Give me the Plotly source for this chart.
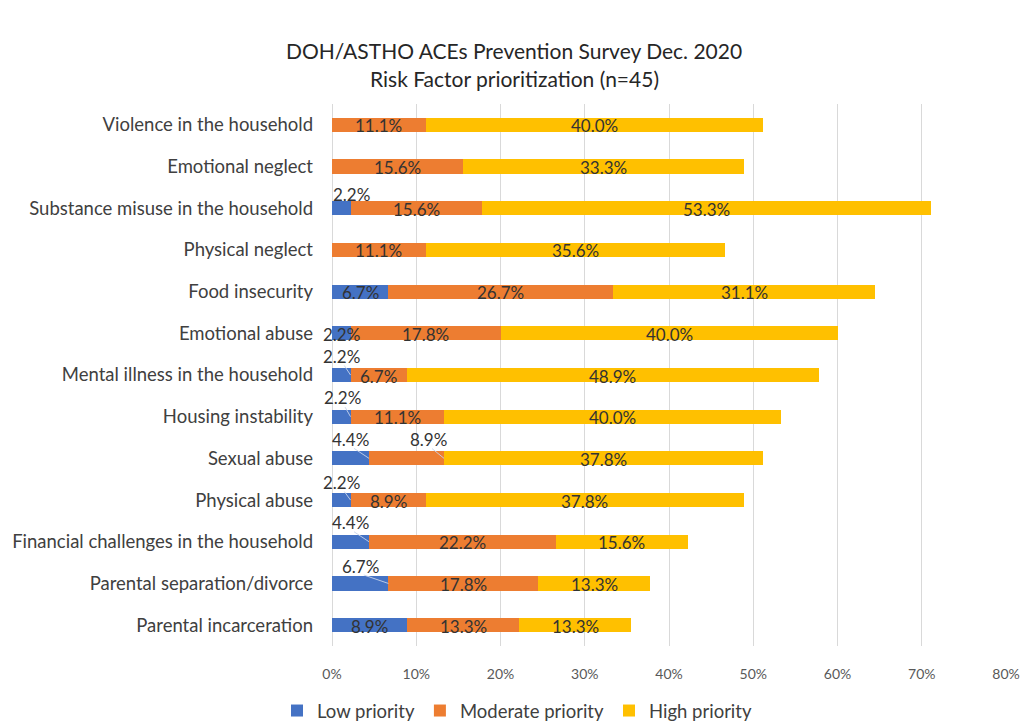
import plotly.graph_objects as go

# Survey results: share of respondents (%) rating each risk factor
categories = [
    "Violence in the household",
    "Emotional neglect",
    "Substance misuse in the household",
    "Physical neglect",
    "Food insecurity",
    "Emotional abuse",
    "Mental illness in the household",
    "Housing instability",
    "Sexual abuse",
    "Physical abuse",
    "Financial challenges in the household",
    "Parental separation/divorce",
    "Parental incarceration",
]
low = [0, 0, 2.2, 0, 6.7, 2.2, 2.2, 2.2, 4.4, 2.2, 4.4, 6.7, 8.9]
moderate = [11.1, 15.6, 15.6, 11.1, 26.7, 17.8, 6.7, 11.1, 8.9, 8.9, 22.2, 17.8, 13.3]
high = [40.0, 33.3, 53.3, 35.6, 31.1, 40.0, 48.9, 40.0, 37.8, 37.8, 15.6, 13.3, 13.3]
series_names = ["Low priority", "Moderate priority", "High priority"]
x_ticks = [0, 10, 20, 30, 40, 50, 60, 70, 80]
x_tick_labels = ["0%", "10%", "20%", "30%", "40%", "50%", "60%", "70%", "80%"]
title_lines = ["DOH/ASTHO ACEs Prevention Survey Dec. 2020", "Risk Factor prioritization (n=45)"]

colors = ["#4472C4", "#ED7D31", "#FFC000"]
FONT = "Lato"
TEXT = "#404040"
LABEL = "#333333"

# plot-area geometry (px)
W, H = 1028, 723
L, R, T, B = 332, 22, 104, 77
X_MAX = 80
PX_PER_UNIT = (W - L - R) / X_MAX

# labels lifted above their bar: (series, category) -> (x shift px, y shift px, leader line)
lifted = {
    (0, 2): (10, 14, False),
    (0, 6): (0, 19, True),
    (0, 7): (1, 19, True),
    (0, 8): (0, 19, True),
    (1, 8): (22, 19, True),
    (0, 9): (0, 18, True),
    (0, 10): (0, 19, True),
    (0, 11): (0, 17, True),
}

series = [low, moderate, high]
fig = go.Figure()
for name, vals, col in zip(series_names, series, colors):
    fig.add_trace(go.Bar(
        name=name, y=categories, x=vals, orientation="h",
        marker=dict(color=col, line=dict(width=0)),
        hoverinfo="x+y",
    ))

annotations = []
for ci, cat in enumerate(categories):
    start = 0.0
    for si, vals in enumerate(series):
        v = vals[ci]
        if v > 0:
            mid = start + v / 2
            dx, dy, leader = lifted.get((si, ci), (0, -1, False))
            if leader:
                # faint leader line from the label down to the segment's end
                annotations.append(dict(
                    x=start + v, y=cat, xref="x", yref="y", text="",
                    showarrow=True, arrowhead=0, arrowwidth=1,
                    arrowcolor="rgba(200,212,235,0.9)", standoff=0, startstandoff=0,
                    ax=-(v / 2) * PX_PER_UNIT + dx + 2, ay=-(dy - 8),
                ))
            annotations.append(dict(
                x=mid, y=cat, xref="x", yref="y", text=f"{v:.1f}%",
                showarrow=False, xshift=dx, yshift=dy,
                font=dict(family=FONT, size=17, color=LABEL),
            ))
        start += v

plot_w, plot_h = W - L - R, H - T - B
for i, line in enumerate(title_lines):
    annotations.append(dict(
        x=(514 - L) / plot_w, y=1 + (T - (50 + 28 * i)) / plot_h,
        xref="paper", yref="paper", text=line, showarrow=False,
        xanchor="center", yanchor="middle",
        font=dict(family=FONT, size=21, color="#262626"),
    ))

fig.update_layout(
    barmode="stack",
    bargap=0.66,
    width=W, height=H,
    margin=dict(l=L, r=R, t=T, b=B, autoexpand=False),
    paper_bgcolor="white", plot_bgcolor="white",
    font=dict(family=FONT, color=TEXT),
    showlegend=True,
    legend=dict(
        orientation="h", x=(517 - L) / plot_w, xanchor="center",
        y=(H - B - 711) / plot_h, yanchor="middle",
        font=dict(family=FONT, size=18.5, color=TEXT),
        traceorder="normal", itemwidth=30,
    ),
    annotations=annotations,
)
fig.update_xaxes(
    range=[0, X_MAX], tickvals=x_ticks, ticktext=x_tick_labels,
    showgrid=True, gridcolor="#D9D9D9", gridwidth=1,
    zeroline=True, zerolinecolor="#D9D9D9", zerolinewidth=1,
    showline=False, ticks="", ticklabelstandoff=18,
    tickfont=dict(family=FONT, size=14, color="#595959"),
)
fig.update_yaxes(
    categoryorder="array", categoryarray=categories, autorange="reversed",
    showgrid=False, showline=False, ticks="", ticklabelstandoff=18,
    tickfont=dict(family=FONT, size=18.5, color=TEXT),
)

fig.write_html("out.html")
